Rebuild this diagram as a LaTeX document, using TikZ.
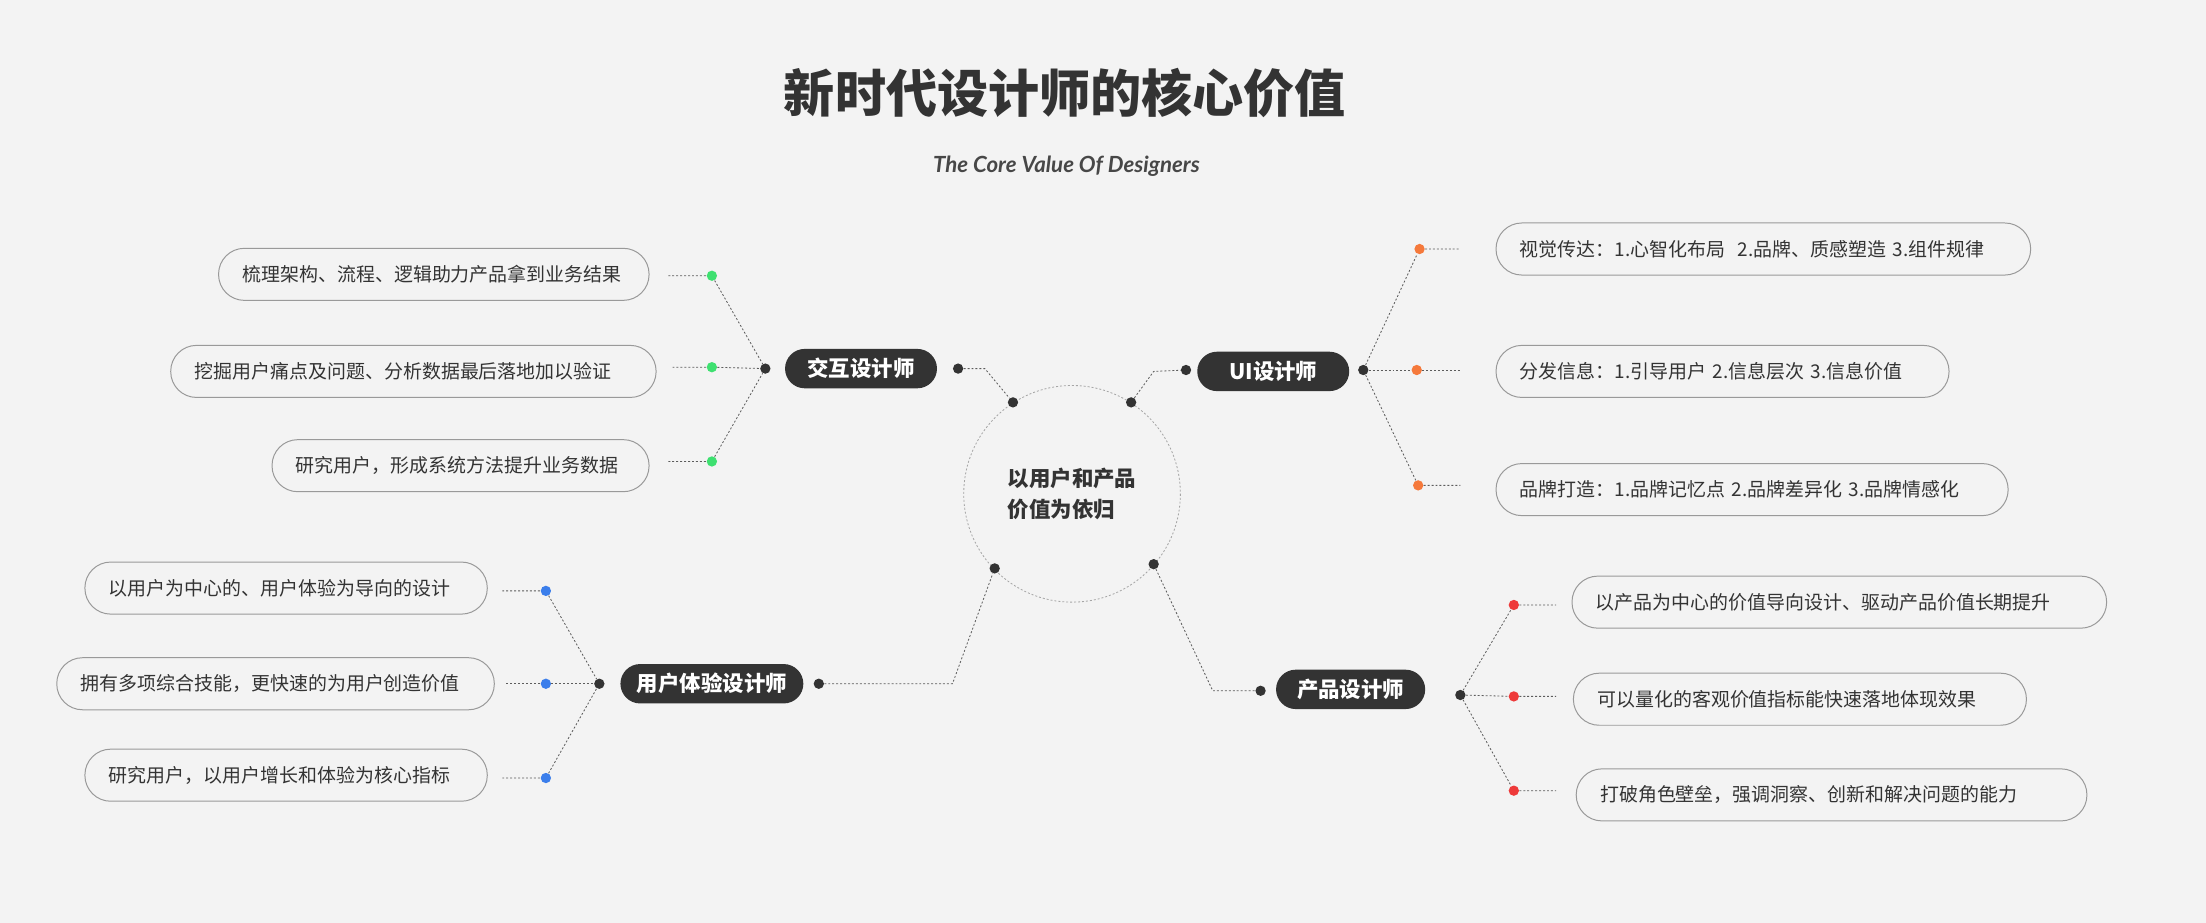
\documentclass[tikz,border=0pt]{standalone}
\usepackage{fontspec}
\setmainfont{Noto Sans CJK SC}
\newfontfamily\latinfont{Lato}
\usetikzlibrary{positioning}

\definecolor{bgcol}{HTML}{F3F3F3}
\definecolor{inkcol}{HTML}{333333}
\definecolor{jhgreen}{HTML}{3EE070}
\definecolor{uiorange}{HTML}{F5793B}
\definecolor{uxblue}{HTML}{3B7EEB}
\definecolor{pdred}{HTML}{EE3A3A}

\begin{document}
\begin{tikzpicture}[
  x=0.03cm, y=-0.03cm,
  every node/.style={font=\fontsize{11.5}{13}\selectfont, text=inkcol},
  leaf/.style={draw=black!40, line width=0.6pt, fill=bgcol, rounded corners=0.55cm,
    minimum height=1.11cm, anchor=west, inner xsep=0.51cm, align=left,
    text width=(#1-34)*0.03cm},
  role/.style={fill=inkcol, rounded corners=0.42cm, minimum height=0.84cm,
    font=\fontsize{13}{15}\selectfont\bfseries, text=white},
  dot/.style={circle, fill=#1, inner sep=0pt, minimum size=0.22cm},
  link/.style={draw=inkcol!80, line width=0.5pt, dash pattern=on 1.2pt off 1.2pt}
]
\fill[bgcol] (0,0) rectangle (1568,656);

% title
\node[font=\fontsize{31}{34}\selectfont\bfseries] (title) at (757,66) {新时代设计师的核心价值};
\node[font=\latinfont\fontsize{13.5}{15}\selectfont\bfseries\itshape, text=inkcol!90] (sub) at (758,118) {The Core Value Of Designers};

% centre
\draw[link, draw=black!35] (762,351) circle (77);
\node[align=left, font=\fontsize{13}{19}\selectfont\bfseries] (core) at (762,351) {以用户和产品\\价值为依归};
\node[dot=inkcol] (c1) at (720,286) {};
\node[dot=inkcol] (c2) at (804,286) {};
\node[dot=inkcol] (c3) at (707,404) {};
\node[dot=inkcol] (c4) at (820,401) {};

% roles
\node[role, minimum width=3.24cm] (jh) at (612,262) {交互设计师};
\node[dot=inkcol] (jhL) at (544,262) {};
\node[dot=inkcol] (jhR) at (681,262) {};
\node[role, minimum width=3.24cm] (ui) at (905,264) {UI设计师};
\node[dot=inkcol] (uiL) at (843,263) {};
\node[dot=inkcol] (uiR) at (969,263) {};
\node[role, minimum width=3.9cm] (ux) at (506,486) {用户体验设计师};
\node[dot=inkcol] (uxL) at (426,486) {};
\node[dot=inkcol] (uxR) at (582,486) {};
\node[role, minimum width=3.18cm] (pd) at (960,490) {产品设计师};
\node[dot=inkcol] (pdL) at (896,491) {};
\node[dot=inkcol] (pdR) at (1038,494) {};

\coordinate (k1) at (700,262);
\coordinate (k2) at (820,264);
\coordinate (k3) at (677,486);
\coordinate (k4) at (862,491);
\draw[link] (jhR) -- (k1) -- (c1);
\draw[link] (c2) -- (k2) -- (uiL);
\draw[link] (uxR) -- (k3) -- (c3);
\draw[link] (c4) -- (k4) -- (pdL);

% 交互设计师
\node[leaf=306] (jh1) at (155,195) {梳理架构、流程、逻辑助力产品拿到业务结果};
\node[leaf=345] (jh2) at (121,264) {挖掘用户痛点及问题、分析数据最后落地加以验证};
\node[leaf=268] (jh3) at (193,331) {研究用户，形成系统方法提升业务数据};
\node[dot=jhgreen] (g1) at (506,196) {};
\node[dot=jhgreen] (g2) at (506,261) {};
\node[dot=jhgreen] (g3) at (506,328) {};
\coordinate (e1) at (475,196);
\coordinate (e2) at (478,261);
\coordinate (e3) at (475,328);
\draw[link] (e1) -- (g1) -- (jhL);
\draw[link] (e2) -- (g2) -- (jhL);
\draw[link] (e3) -- (g3) -- (jhL);

% UI设计师
\node[leaf=380] (ui1) at (1063,177) {视觉传达：1.心智化布局~~2.品牌、质感塑造 3.组件规律};
\node[leaf=322] (ui2) at (1063,264) {分发信息：1.引导用户 2.信息层次 3.信息价值};
\node[leaf=364] (ui3) at (1063,348) {品牌打造：1.品牌记忆点 2.品牌差异化 3.品牌情感化};
\node[dot=uiorange] (o1) at (1009,177) {};
\node[dot=uiorange] (o2) at (1007,263) {};
\node[dot=uiorange] (o3) at (1008,345) {};
\coordinate (f1) at (1038,177);
\coordinate (f2) at (1038,263);
\coordinate (f3) at (1038,345);
\draw[link] (uiR) -- (o1) -- (f1);
\draw[link] (uiR) -- (o2) -- (f2);
\draw[link] (uiR) -- (o3) -- (f3);

% 用户体验设计师
\node[leaf=286] (ux1) at (60,418) {以用户为中心的、用户体验为导向的设计};
\node[leaf=311] (ux2) at (40,486) {拥有多项综合技能，更快速的为用户创造价值};
\node[leaf=286] (ux3) at (60,551) {研究用户，以用户增长和体验为核心指标};
\node[dot=uxblue] (b1) at (388,420) {};
\node[dot=uxblue] (b2) at (388,486) {};
\node[dot=uxblue] (b3) at (388,553) {};
\coordinate (h1) at (357,420);
\coordinate (h2) at (360,486);
\coordinate (h3) at (357,553);
\draw[link] (h1) -- (b1) -- (uxL);
\draw[link] (h2) -- (b2) -- (uxL);
\draw[link] (h3) -- (b3) -- (uxL);

% 产品设计师
\node[leaf=380] (pd1) at (1117,428) {以产品为中心的价值导向设计、驱动产品价值长期提升};
\node[leaf=322] (pd2) at (1118,497) {可以量化的客观价值指标能快速落地体现效果};
\node[leaf=363] (pd3) at (1120,565) {打破角色壁垒，强调洞察、创新和解决问题的能力};
\node[dot=pdred] (r1) at (1076,430) {};
\node[dot=pdred] (r2) at (1076,495) {};
\node[dot=pdred] (r3) at (1076,562) {};
\coordinate (j1) at (1106,430);
\coordinate (j2) at (1106,495);
\coordinate (j3) at (1106,562);
\draw[link] (pdR) -- (r1) -- (j1);
\draw[link] (pdR) -- (r2) -- (j2);
\draw[link] (pdR) -- (r3) -- (j3);
\end{tikzpicture}
\end{document}
